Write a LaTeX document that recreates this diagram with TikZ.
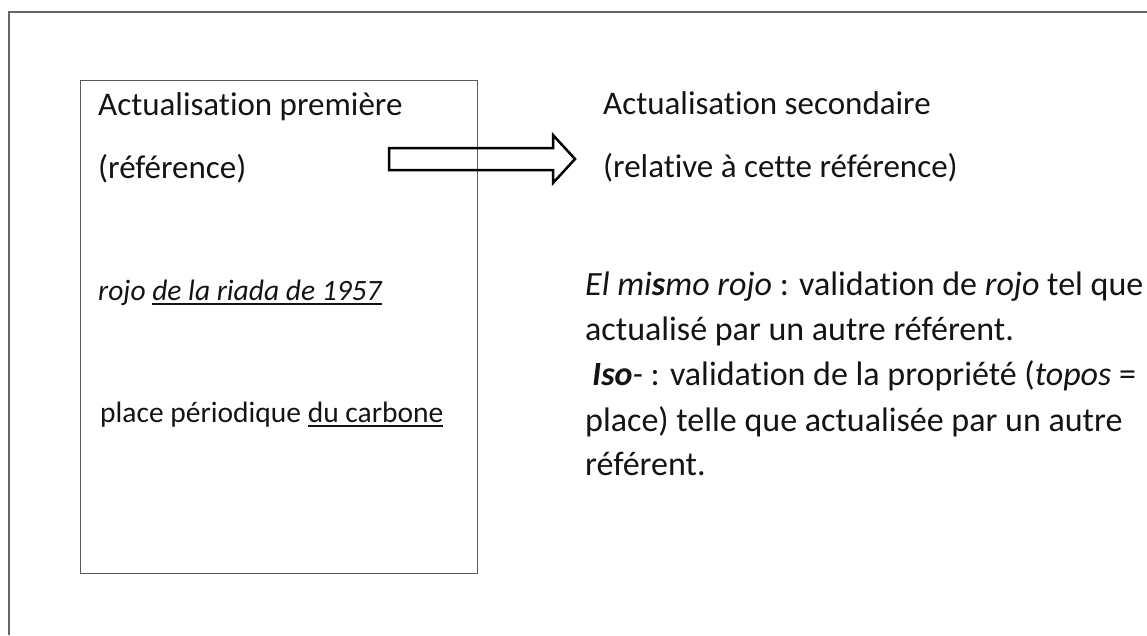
\documentclass[tikz,border=0pt]{standalone}
\usepackage{fontspec}
\setmainfont{Carlito}[Ligatures={NoCommon}]
\newcommand\myul[1]{\setbox0\hbox{#1}\rlap{\rule[-5pt]{\wd0}{1.6pt}}\box0}
\begin{document}
\begin{tikzpicture}[x=1pt,y=-1pt,
  txt/.style={anchor=base west, inner sep=0pt, text=black!92},
  head/.style={txt, font=\fontsize{33}{40}\selectfont},
  item/.style={txt, font=\fontsize{29.5}{36}\selectfont},
  para/.style={txt, font=\fontsize{34}{40}\selectfont},
  frame/.style={draw=black!60, line width=1.3pt},
  blockarrow/.style={draw=black, line width=2.5pt, line join=miter}]
\useasboundingbox (0,0) rectangle (1147,635);
\draw[frame] (9,635) -- (9,12) -- (1147,12);
\node[draw=black!65, line width=1.4pt, minimum width=397pt, minimum height=493pt, anchor=north west, inner sep=0pt] (box) at (80,80) {};
\draw[blockarrow] (389,148) -- (553,148) -- (553,135) -- (575,159) -- (553,183) -- (553,170) -- (389,170) -- cycle;
% left column
\node[head] (l1) at (98,115) {Actualisation première};
\node[head] (l2) at (98,178) {(référence)};
\node[item] (l3) at (98,300) {\textit{rojo \myul{de la riada de 1957}}};
\node[item] (l4) at (100,422) {place périodique \myul{du carbone}};
% right column
\node[head] (r1) at (603,114) {Actualisation secondaire};
\node[head] (r2) at (603,177) {(relative à cette référence)};
\node[para] (r3) at (585,295) {\textit{El mi\textbf{s}mo rojo} : validation de \textit{rojo} tel que};
\node[para] (r4) at (585,340) {actualisé par un autre référent.};
\node[para] (r5) at (592,385) {\textbf{\textit{Iso}}\textit{-} : validation de la propriété (\textit{topos} =};
\node[para] (r6) at (585,431) {place) telle que actualisée par un autre};
\node[para] (r7) at (585,475) {référent.};
\end{tikzpicture}
\end{document}
